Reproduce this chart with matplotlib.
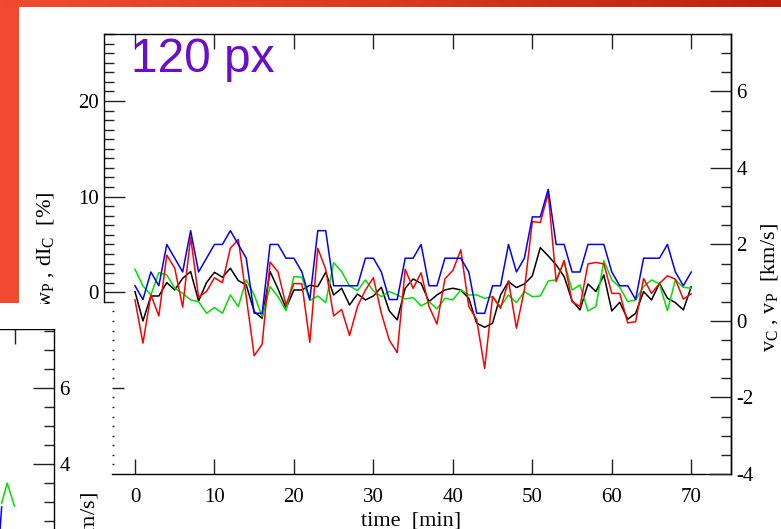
import numpy as np
import matplotlib
matplotlib.use("Agg")
import matplotlib.pyplot as plt
from matplotlib.patches import Rectangle
from matplotlib.colors import LinearSegmentedColormap
from matplotlib.ticker import FixedLocator, MultipleLocator

W, H = 781, 529   # output size in px (dpi 100)

plt.rcParams['font.family'] = 'Liberation Serif'
plt.rcParams['mathtext.fontset'] = 'custom'
plt.rcParams['mathtext.rm'] = 'Liberation Serif'
plt.rcParams['mathtext.it'] = 'Liberation Serif:italic'
plt.rcParams['axes.unicode_minus'] = False

### data ###
time_min = np.arange(71)

# velocities [km/s], right axis
v_p = [0.92, 0.56, 1.28, 0.92, 2.00, 1.64, 1.28, 2.36, 1.28, 1.64,
       2.00, 2.00, 2.36, 2.00, 1.64, 0.20, 0.20, 2.00, 2.00, 1.64,
       1.64, 1.28, 0.56, 2.36, 2.36, 0.92, 0.92, 0.92, 0.92, 1.64,
       1.64, 1.28, 0.56, 0.56, 1.64, 1.64, 2.00, 0.92, 0.92, 1.64,
       1.64, 1.64, 1.28, 0.20, 0.20, 0.92, 0.92, 2.00, 1.28, 1.64,
       2.72, 2.72, 3.44, 2.00, 2.00, 1.28, 1.28, 2.00, 2.00, 2.00,
       1.28, 0.92, 0.92, 0.56, 1.64, 1.64, 1.64, 2.00, 1.28, 0.92, 1.28]
v_c = [0.55, -0.58, 0.68, 0.13, 1.72, 1.38, 0.36, 2.19, 0.62, 0.77,
       1.13, 1.00, 1.90, 2.13, 0.63, -0.91, -0.61, 1.54, 1.28, 0.42,
       0.98, 0.97, -0.56, 1.90, 1.35, 0.13, 0.30, -0.38, 0.38, 0.81,
       1.13, 0.20, -0.50, -0.83, 1.35, 0.85, 1.26, 0.38, -0.08, 1.10,
       1.32, 1.86, 0.38, 0.03, -1.24, 0.64, 0.33, 1.05, -0.19, 0.81,
       2.60, 2.57, 3.34, 1.03, 1.58, 0.50, 0.38, 1.49, 1.53, 1.49,
       0.72, 0.72, -0.05, -0.02, 1.11, 0.72, 0.98, 1.18, 1.09, 0.57, 0.71]

# percentages, left axis
w_p = [0.07, -3.00, -0.39, -0.39, 1.01, 0.24, 1.46, 2.16, -0.91, 1.01,
       2.09, 1.57, 2.51, 1.22, 0.76, -2.02, -2.72, 2.16, 0.35, -1.67,
       0.24, 0.24, 0.73, 0.59, 2.09, -0.28, 0.42, -1.33, -0.18, -0.80,
       -0.39, 0.52, -1.95, -2.89, 0.42, 1.39, 0.94, -0.98, -0.28, 0.24,
       0.42, 0.24, -0.63, -3.24, -3.66, -3.24, -0.28, 1.11, 0.49, 0.87,
       1.71, 4.67, 3.80, 2.86, 1.64, -0.87, -1.85, 0.87, 0.07, 1.81,
       -1.95, -1.05, -2.82, -2.20, 0.07, -0.80, 0.94, -0.63, -1.08, -1.85, 0.59]
di_c = [2.40, 0.66, -0.28, 2.05, 1.81, 0.42, -0.11, -0.80, -0.98, -2.20,
        -1.60, -2.20, -0.28, -1.50, 1.29, -0.28, -2.55, 0.59, -0.46, -1.92,
        1.64, 1.57, -0.87, -0.39, -1.08, 3.10, 2.16, 0.66, 0.17, 1.29,
        0.14, -0.46, 0.07, -0.28, -0.70, -0.56, -1.43, -0.98, -1.74, -0.63,
        -0.80, 0.24, -0.28, -0.28, -0.63, -0.46, -1.50, -0.28, -1.08, 0.07,
        -0.46, -0.39, 1.18, 1.29, 3.20, 0.24, 0.76, -1.95, -1.50, 3.31,
        1.29, 0.52, -0.98, -0.80, 0.59, 1.29, 0.87, -1.92, 1.29, 0.52, 0.42]

# bits of the neighbouring slide panel (bottom left corner)
frag_t_green = [68.31, 69.02, 69.95]
frag_green = [2.97, 3.50, 2.89]
frag_t_blue = [68.05, 68.31]
frag_blue = [2.10, 2.87]

x_ticks = [0, 10, 20, 30, 40, 50, 60, 70]
left_major = [0, 10, 20]

GREEN = '#00e000'
LW = 1.1
FS_TICK = 15
TICK = dict(direction='in', width=1.0, color='#222222')


def fx(px):
    return px / W


def fy(px):
    return 1 - px / H


fig = plt.figure(figsize=(W / 100, H / 100), dpi=100)

# main panel
ax = fig.add_axes([fx(104), fy(474), fx(627), 440 / H])
ax.set_xlim(-3.9, 75)
ax.set_ylim(-19, 27)
for s in ax.spines.values():
    s.set_linewidth(1.0)
ax.spines['bottom'].set_bounds(-2.9, 75)
ax.spines['left'].set_bounds(-1, 27)

ax.set_xticks(x_ticks)
ax.tick_params(axis='x', which='major', length=10.8, top=True, bottom=True,
               labelsize=FS_TICK, pad=10, **TICK)
ax.yaxis.set_major_locator(FixedLocator(left_major))
ax.yaxis.set_minor_locator(FixedLocator([v for v in range(-1, 28) if v % 10]))
ax.tick_params(axis='y', which='major', length=15, labelsize=FS_TICK, pad=4, **TICK)
ax.tick_params(axis='y', which='minor', length=7.2, **TICK)

ax.plot(time_min, w_p, color='black', lw=LW)
ax.plot(time_min, di_c, color=GREEN, lw=LW)

axr = ax.twinx()
axr.set_ylim(-4, 7.5)
for k in ('left', 'top', 'bottom'):
    axr.spines[k].set_visible(False)
axr.spines['right'].set_linewidth(1.0)
axr.yaxis.set_major_locator(MultipleLocator(2))
axr.yaxis.set_minor_locator(MultipleLocator(0.5))
axr.tick_params(axis='y', which='major', length=15, labelsize=FS_TICK, pad=4, **TICK)
axr.tick_params(axis='y', which='minor', length=7.2, **TICK)
axr.plot(time_min, v_c, color='red', lw=LW)
axr.plot(time_min, v_p, color='blue', lw=LW)

# lower part of the left axis (only ticks, dotted look)
axd = fig.add_axes([fx(112), fy(474), fx(6), 440 / H])
axd.set_ylim(-19, 27)
axd.patch.set_visible(False)
for s in axd.spines.values():
    s.set_visible(False)
axd.set_xticks([])
axd.yaxis.set_major_locator(FixedLocator([-10]))
axd.yaxis.set_minor_locator(FixedLocator([v for v in range(-18, -1) if v != -10]))
axd.tick_params(axis='y', which='major', length=8.6, labelleft=False, **TICK)
axd.tick_params(axis='y', which='minor', length=1.2, **TICK)

fig.text(fx(45), fy(250), 'w$_\\mathrm{P}$ , dI$_\\mathrm{C}$  [%]', rotation=90,
         ha='center', va='center', fontsize=16)
fig.text(fx(770), fy(288), 'v$_\\mathrm{C}$ , v$_\\mathrm{P}$  [km/s]', rotation=90,
         ha='center', va='center', fontsize=16)
fig.text(fx(411), fy(521), 'time  [min]', ha='center', va='center', fontsize=16)

fig.text(fx(131), fy(72), '120 px', fontsize=34.5, family='Liberation Sans',
         color='#6a0dcc', ha='left', va='baseline')

# neighbouring panel fragment, bottom left
axp = fig.add_axes([0, 0, fx(54), 200 / H])
axp.set_xlim(68.1, 75)
axp.set_ylim(2.29, 7.55)
axp.spines['left'].set_visible(False)
axp.spines['bottom'].set_visible(False)
for k in ('top', 'right'):
    axp.spines[k].set_linewidth(1.0)
axp.xaxis.set_ticks_position('top')
axp.set_xticks([70])
axp.tick_params(axis='x', length=10.8, labeltop=False, **TICK)
axp.yaxis.set_ticks_position('right')
axp.yaxis.set_major_locator(MultipleLocator(2))
axp.yaxis.set_minor_locator(MultipleLocator(0.5))
axp.tick_params(axis='y', which='major', length=15, labelsize=FS_TICK, pad=4, **TICK)
axp.tick_params(axis='y', which='minor', length=7.2, **TICK)
axp.plot(frag_t_green, frag_green, color=GREEN, lw=LW)
axp.plot(frag_t_blue, frag_blue, color='blue', lw=LW)
fig.text(fx(90), fy(492), 'v$_\\mathrm{C}$ , v$_\\mathrm{P}$  [km/s]', rotation=90,
         ha='center', va='top', fontsize=16)

# slide decoration: red bars and white mask under the left label
fig.add_artist(Rectangle((0, fy(329)), fx(103), 25 / H, transform=fig.transFigure,
                         facecolor='white', edgecolor='none', zorder=5))
fig.add_artist(Rectangle((0, fy(303)), fx(19), 296 / H, transform=fig.transFigure,
                         facecolor='#f04b31', edgecolor='none', zorder=6))
cmap = LinearSegmentedColormap.from_list('bar', ['#f04b31', '#d8391f', '#c02010'])
axg = fig.add_axes([0, fy(7), 1, 7 / H])
axg.imshow(np.linspace(0, 1, 256)[None, :], aspect='auto', cmap=cmap)
axg.axis('off')

fig.savefig('out.png', dpi=100)
